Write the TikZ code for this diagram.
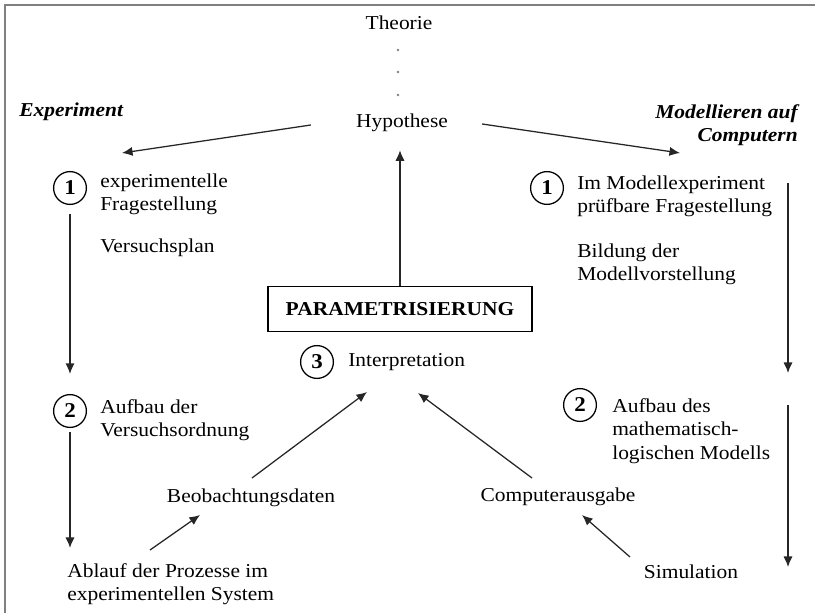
\documentclass[tikz,border=0pt]{standalone}
\usepackage{fontspec}
\setmainfont{Liberation Serif}[FakeStretch=1.09]
\usetikzlibrary{arrows.meta}

\begin{document}
\begin{tikzpicture}[x=0.025cm, y=-0.025cm,
	>={Latex[length=7.5pt,width=6.5pt]},
	txt/.style={anchor=west, align=left, inner sep=0pt, font=\fontsize{14}{16.5}\selectfont},
	mitte/.style={txt, anchor=center},
	titel/.style={txt, font=\fontsize{14}{16.5}\bfseries\itshape},
	nummer/.style={draw, circle, line width=0.9pt, minimum size=0.82cm, inner sep=0pt, font=\fontsize{15}{17}\bfseries},
	pfeil/.style={->, line width=0.9pt, black!85},
	punkt/.style={fill, circle, inner sep=0.7pt, black!50},
	rahmen/.style={line width=2pt, black!50}]
	\useasboundingbox (0,0) rectangle (815,613);
	\draw[rahmen] (5,613) -- (5,5) -- (815,5);

	% Mitte
	\node[mitte] (theorie) at (399,23) {Theorie};
	\foreach \i/\y in {1/50, 2/72, 3/95}
		\node[punkt] (punkt\i) at (398,\y) {};
	\node[mitte] (hypothese) at (402,123) {Hypothese};
	\node[mitte, draw, line width=0.9pt, minimum width=6.6cm, minimum height=1.125cm,
		font=\fontsize{14}{16.5}\bfseries] (param) at (400,309) {PARAMETRISIERUNG};
	\node[nummer] (nr3) at (317,362) {3};
	\node[txt] (interp) at (348,362) {Interpretation};

	% Experiment
	\node[titel] (experiment) at (19,112) {Experiment};
	\node[nummer] (nr1l) at (70,188) {1};
	\node[txt] (frageL) at (100,194) {experimentelle\\Fragestellung};
	\node[txt] (plan) at (100,248) {Versuchsplan};
	\node[nummer] (nr2l) at (70,411) {2};
	\node[txt] (aufbauL) at (100,420) {Aufbau der\\Versuchsordnung};
	\node[txt] (ablauf) at (67,584) {Ablauf der Prozesse im\\experimentellen System};
	\node[mitte] (beob) at (251,498) {Beobachtungsdaten};

	% Modellieren
	\node[titel, anchor=east, align=right] (modell) at (798,125) {Modellieren auf\\Computern};
	\node[nummer] (nr1r) at (547,188) {1};
	\node[txt] (frageR) at (577,196) {Im Modellexperiment\\prüfbare Fragestellung};
	\node[txt] (bildung) at (577,264) {Bildung der\\Modellvorstellung};
	\node[nummer] (nr2r) at (580,405) {2};
	\node[txt] (aufbauR) at (612,431) {Aufbau des\\mathematisch-\\logischen Modells};
	\node[mitte] (computer) at (558,497) {Computerausgabe};
	\node[mitte] (simulation) at (691,572) {Simulation};

	% Pfeile
	\draw[pfeil] ([shift={(-45,2)}]hypothese.west) -- ([shift={(52,-35)}]nr1l.center);
	\draw[pfeil] ([shift={(34,1)}]hypothese.east) -- ([shift={(133,-35)}]nr1r.center);
	\draw[pfeil, shorten >=0.45cm] (param.north) -- (param.north |- hypothese.south);
	\draw[pfeil, shorten <=0.22cm, shorten >=0.5cm] (nr1l) -- (nr2l);
	\draw[pfeil, shorten <=0.1cm] (nr2l) -- ([shift={(3,-36)}]ablauf.west);
	\draw[pfeil] ([shift={(83,-34)}]ablauf.west) -- ([shift={(-51,17)}]beob.center);
	\draw[pfeil] ([shift={(1,-20)}]beob.center) -- ([shift={(19,30)}]interp.west);
	\draw[pfeil] ([shift={(241,-5)}]nr1r.center) -- ([shift={(208,-32)}]nr2r.center);
	\draw[pfeil] ([shift={(208,0)}]nr2r.center) -- ([shift={(97,-5)}]simulation.center);
	\draw[pfeil] ([shift={(-61,-15)}]simulation.center) -- ([shift={(24,18)}]computer.center);
	\draw[pfeil] ([shift={(-26,-19)}]computer.center) -- ([shift={(70,31)}]interp.west);

\end{tikzpicture}
\end{document}
